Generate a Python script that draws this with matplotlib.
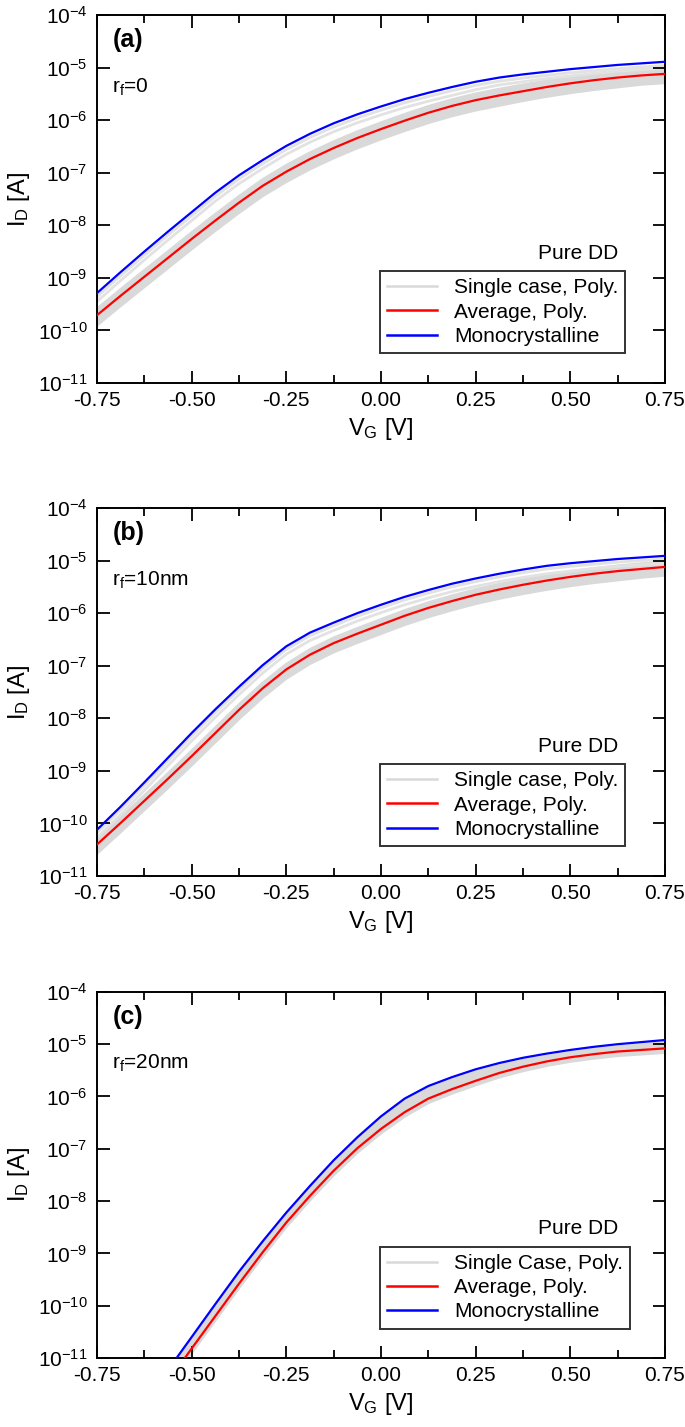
import matplotlib
matplotlib.use("Agg")
import matplotlib.pyplot as plt
import numpy as np
from matplotlib.ticker import LogLocator, NullLocator, MultipleLocator, FormatStrFormatter

plt.rcParams["font.family"] = ["Liberation Sans", "DejaVu Sans"]
plt.rcParams["mathtext.fontset"] = "custom"
plt.rcParams["mathtext.rm"] = "Liberation Sans"
plt.rcParams["mathtext.it"] = "Liberation Sans:italic"
plt.rcParams["mathtext.bf"] = "Liberation Sans:bold"
plt.rcParams["mathtext.default"] = "regular"
plt.rcParams["axes.unicode_minus"] = False

# gate voltage grid [V]
vg = [-0.75, -0.6875, -0.625, -0.5625, -0.5, -0.4375, -0.375, -0.3125, -0.25,
      -0.1875, -0.125, -0.0625, 0.0, 0.0625, 0.125, 0.1875, 0.25, 0.3125,
      0.375, 0.4375, 0.5, 0.5625, 0.625, 0.6875, 0.75]

# log10(I_D / A)
# (a) r_f = 0
mono_a = [-9.29, -8.89, -8.50, -8.12, -7.75, -7.38, -7.05, -6.76, -6.49, -6.26, -6.06, -5.89, -5.74,
          -5.60, -5.48, -5.37, -5.27, -5.19, -5.13, -5.08, -5.03, -4.99, -4.95, -4.92, -4.89]
avg_a = [-9.71, -9.34, -8.98, -8.62, -8.26, -7.91, -7.57, -7.25, -6.98, -6.74, -6.53, -6.34, -6.17,
         -6.01, -5.86, -5.73, -5.62, -5.53, -5.45, -5.37, -5.30, -5.24, -5.19, -5.15, -5.12]
# single cases: the dense band (upper / lower edge) and a few outliers near the mono curve
band_top_a = [-9.59, -9.22, -8.86, -8.50, -8.14, -7.79, -7.45, -7.13, -6.86, -6.62, -6.41, -6.22, -6.05,
              -5.89, -5.74, -5.61, -5.50, -5.41, -5.33, -5.25, -5.18, -5.12, -5.07, -5.03, -5.00]
band_bot_a = [-9.90, -9.53, -9.17, -8.81, -8.45, -8.10, -7.76, -7.44, -7.17, -6.93, -6.72, -6.53, -6.36,
              -6.20, -6.05, -5.92, -5.81, -5.72, -5.63, -5.55, -5.48, -5.42, -5.37, -5.32, -5.29]
single_a = [
    [-9.36, -8.96, -8.57, -8.19, -7.82, -7.45, -7.12, -6.83, -6.56, -6.33, -6.13, -5.96, -5.81,
     -5.67, -5.55, -5.44, -5.34, -5.26, -5.20, -5.15, -5.10, -5.06, -5.02, -4.99, -4.96],
    [-9.45, -9.05, -8.66, -8.28, -7.91, -7.54, -7.21, -6.92, -6.65, -6.42, -6.22, -6.05, -5.90,
     -5.76, -5.64, -5.53, -5.42, -5.33, -5.27, -5.21, -5.16, -5.11, -5.07, -5.04, -5.01],
]

# (b) r_f = 10 nm
mono_b = [-10.12, -9.68, -9.22, -8.75, -8.28, -7.83, -7.40, -6.99, -6.63, -6.37, -6.18, -6.00, -5.84,
          -5.69, -5.56, -5.44, -5.34, -5.25, -5.17, -5.10, -5.05, -5.01, -4.97, -4.94, -4.91]
avg_b = [-10.40, -9.99, -9.57, -9.15, -8.72, -8.28, -7.84, -7.43, -7.07, -6.79, -6.57, -6.39, -6.22,
         -6.05, -5.90, -5.77, -5.65, -5.55, -5.46, -5.38, -5.31, -5.25, -5.20, -5.16, -5.12]
band_top_b = [-10.30, -9.89, -9.47, -9.05, -8.62, -8.18, -7.74, -7.33, -6.97, -6.69, -6.47, -6.29, -6.12,
              -5.95, -5.80, -5.67, -5.55, -5.45, -5.36, -5.28, -5.21, -5.15, -5.10, -5.06, -5.02]
band_bot_b = [-10.57, -10.16, -9.74, -9.32, -8.89, -8.45, -8.01, -7.60, -7.24, -6.96, -6.74, -6.56, -6.39,
              -6.22, -6.07, -5.94, -5.82, -5.72, -5.63, -5.55, -5.48, -5.42, -5.37, -5.32, -5.28]
single_b = [
    [-10.18, -9.74, -9.28, -8.81, -8.34, -7.89, -7.46, -7.05, -6.69, -6.43, -6.24, -6.06, -5.90,
     -5.75, -5.62, -5.50, -5.40, -5.31, -5.23, -5.16, -5.11, -5.07, -5.03, -5.00, -4.97],
    [-10.27, -9.83, -9.37, -8.90, -8.43, -7.98, -7.55, -7.14, -6.78, -6.52, -6.33, -6.15, -5.99,
     -5.84, -5.71, -5.59, -5.49, -5.40, -5.32, -5.25, -5.20, -5.15, -5.11, -5.08, -5.05],
]

# (c) r_f = 20 nm
mono_c = [-13.20, -12.55, -11.88, -11.23, -10.60, -9.97, -9.35, -8.77, -8.22, -7.71, -7.22, -6.78, -6.38,
          -6.04, -5.80, -5.63, -5.48, -5.36, -5.26, -5.18, -5.11, -5.05, -5.00, -4.96, -4.92]
avg_c = [-13.50, -12.80, -12.12, -11.45, -10.82, -10.20, -9.58, -8.98, -8.41, -7.90, -7.42, -6.99, -6.62,
         -6.30, -6.04, -5.86, -5.70, -5.55, -5.43, -5.33, -5.25, -5.19, -5.14, -5.11, -5.08]
band_top_c = [-13.25, -12.60, -11.93, -11.28, -10.65, -10.02, -9.40, -8.82, -8.27, -7.76, -7.27, -6.83, -6.43,
              -6.09, -5.85, -5.68, -5.53, -5.41, -5.31, -5.23, -5.16, -5.10, -5.05, -5.01, -4.97]
band_bot_c = [-13.58, -12.88, -12.20, -11.53, -10.90, -10.28, -9.66, -9.06, -8.49, -7.98, -7.50, -7.07, -6.70,
              -6.38, -6.12, -5.94, -5.78, -5.63, -5.51, -5.41, -5.33, -5.27, -5.22, -5.19, -5.16]
single_c = []

panel_tags = ["(a)", "(b)", "(c)"]
radius_labels = [r"$r_f$=0", r"$r_f$=10nm", r"$r_f$=20nm"]
single_labels = ["Single case, Poly.", "Single case, Poly.", "Single Case, Poly."]

panels = [
    (mono_a, avg_a, band_top_a, band_bot_a, single_a),
    (mono_b, avg_b, band_top_b, band_bot_b, single_b),
    (mono_c, avg_c, band_top_c, band_bot_c, single_c),
]

# axes boxes in figure fraction: left, bottom, width, height
boxes = [
    [0.1416, 0.7316, 0.8292, 0.2579],
    [0.1416, 0.3861, 0.8292, 0.2579],
    [0.1416, 0.0484, 0.8292, 0.2565],
]

GRAY = "#d9d9d9"

fig = plt.figure(figsize=(6.85, 14.27), dpi=100)

for i, (mono, avg, top, bot, singles) in enumerate(panels):
    ax = fig.add_axes(boxes[i])
    x = np.array(vg)

    ax.fill_between(x, 10.0 ** np.array(bot), 10.0 ** np.array(top), color=GRAY, lw=0, zorder=1)
    ax.plot(x, 10.0 ** np.array(top), color=GRAY, lw=2.0, zorder=1,
            label=single_labels[i])
    ax.plot(x, 10.0 ** np.array(bot), color=GRAY, lw=2.0, zorder=1)
    for s in singles:
        ax.plot(x, 10.0 ** np.array(s), color="#e2e2e2", lw=2.0, zorder=1)
    ax.plot(x, 10.0 ** np.array(avg), color="#ff0000", lw=1.6,
            label="Average, Poly.", zorder=3)
    ax.plot(x, 10.0 ** np.array(mono), color="#0000ff", lw=1.6,
            label="Monocrystalline", zorder=4)

    ax.set_yscale("log")
    ax.set_xlim(-0.75, 0.75)
    ax.set_ylim(1e-11, 1e-4)

    ax.xaxis.set_major_locator(MultipleLocator(0.25))
    ax.xaxis.set_minor_locator(MultipleLocator(0.125))
    ax.xaxis.set_major_formatter(FormatStrFormatter("%.2f"))
    ax.yaxis.set_major_locator(LogLocator(base=10, numticks=20))
    ax.yaxis.set_minor_locator(NullLocator())

    ax.tick_params(which="both", direction="in", top=True, right=True, width=1.3)
    ax.tick_params(which="major", length=9)
    ax.tick_params(which="minor", length=6)
    ax.tick_params(axis="x", labelsize=15, pad=6)
    ax.tick_params(axis="y", labelsize=15, pad=7)
    for sp in ax.spines.values():
        sp.set_linewidth(1.4)

    ax.set_xlabel(r"$V_G$ [V]", fontsize=17, labelpad=4)
    ax.set_ylabel(r"$I_D$ [A]", fontsize=17, labelpad=4)

    ax.text(0.028, 0.965, panel_tags[i], transform=ax.transAxes,
            fontsize=18, fontweight="bold", va="top", ha="left")
    ax.text(0.026, 0.79, radius_labels[i], transform=ax.transAxes,
            fontsize=15, va="baseline", ha="left")
    ax.text(0.917, 0.338, "Pure DD", transform=ax.transAxes,
            fontsize=15, va="baseline", ha="right")

    leg = ax.legend(loc="upper left", bbox_to_anchor=(0.498, 0.304),
                    borderaxespad=0, fontsize=15, frameon=True, fancybox=False,
                    handlelength=2.4, handletextpad=0.8, borderpad=0.35,
                    labelspacing=0.25)
    leg.get_frame().set_edgecolor("black")
    leg.get_frame().set_linewidth(1.4)
    for line in leg.get_lines():
        line.set_linewidth(1.8)

fig.savefig("out.png", dpi=100)
